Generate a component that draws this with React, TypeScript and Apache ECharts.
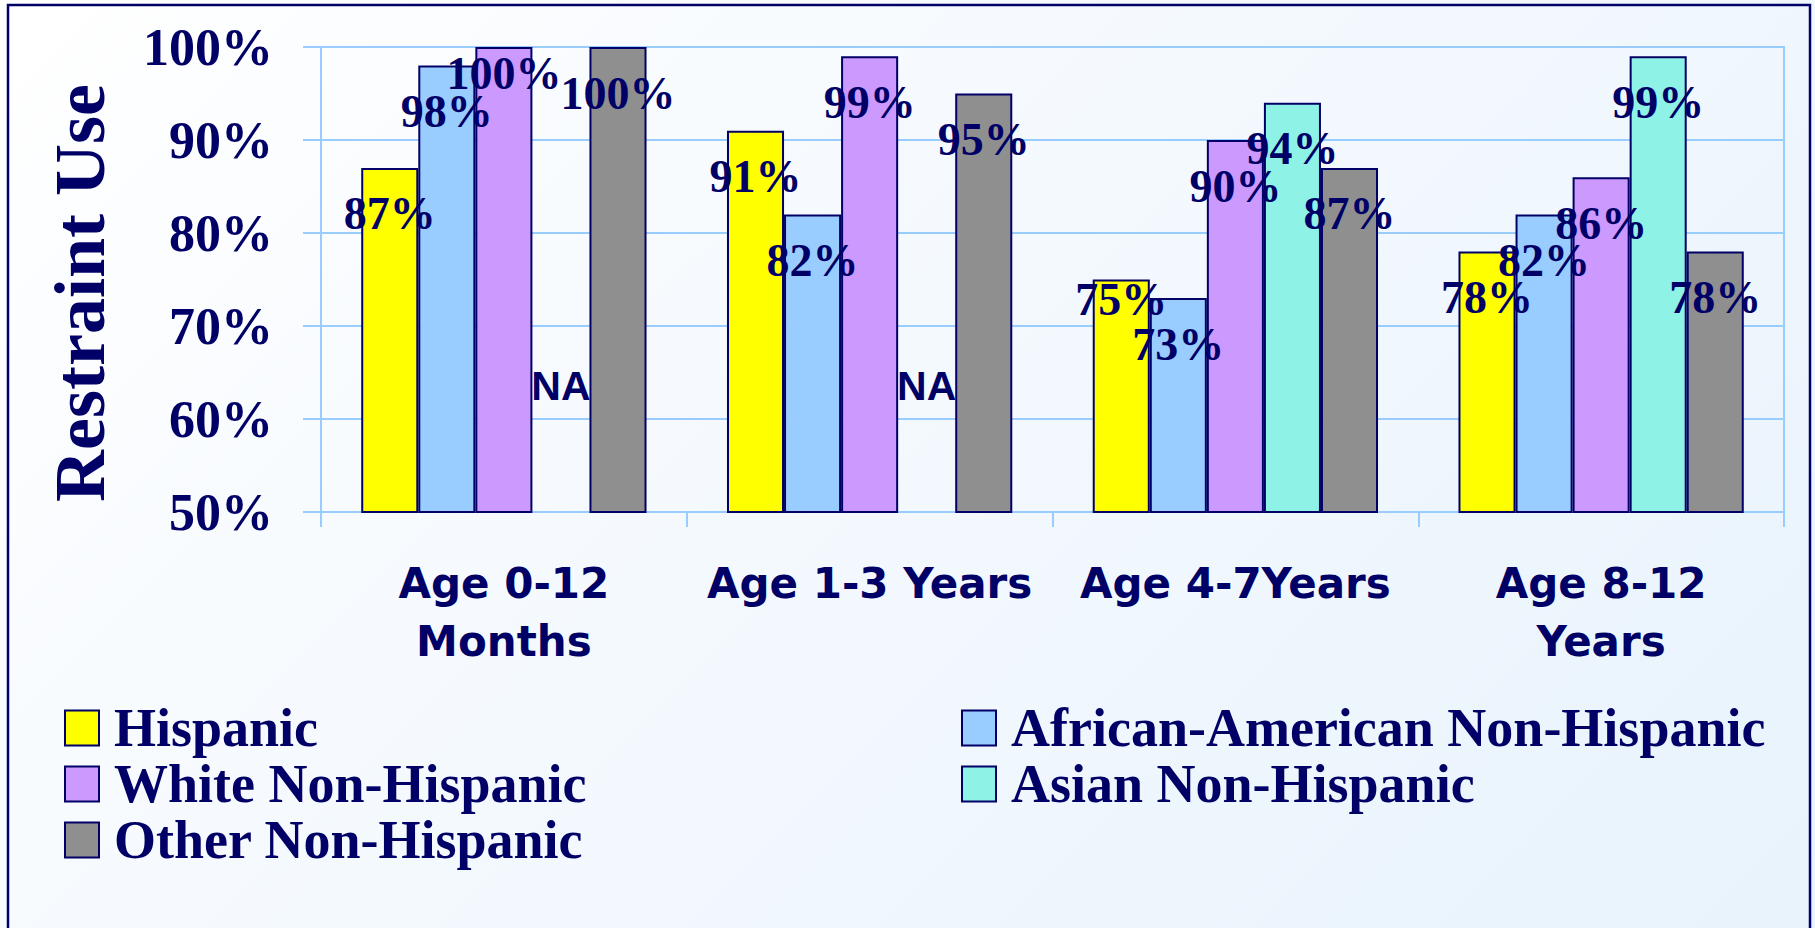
import React, { useEffect, useRef } from "react";
import * as echarts from "echarts";

const categories = ["Age 0-12\nMonths", "Age 1-3 Years", "Age 4-7Years", "Age 8-12\nYears"];
const seriesNames = [
  "Hispanic",
  "African-American Non-Hispanic",
  "White Non-Hispanic",
  "Asian Non-Hispanic",
  "Other Non-Hispanic",
];
const hispanic = [87, 91, 75, 78];
const africanAmerican = [98, 82, 73, 82];
const whiteNH = [100, 99, 90, 86];
const asianNH: (number | null)[] = [null, null, 94, 99];
const otherNH = [100, 95, 87, 78];
const yMin = 50;
const yMax = 100;
const yStep = 10;
const naText = "NA";
const naLevel = 63.5;

const colors = ["#ffff00", "#99ccff", "#cc99ff", "#8ef2e6", "#8f8f8f"];
const NAVY = "#000066";
const SERIF = "'Liberation Serif', 'Times New Roman', serif";
const GRIDC = "#99ccff";

// label distance tweaks (series index, category index) -> distance
const labelDistanceOverrides: Record<string, number> = { "2-0": 3, "0-2": -3 };

export default function App() {
  const ref = useRef<HTMLDivElement>(null);
  useEffect(() => {
    if (!ref.current) return;
    const chart = echarts.init(ref.current, undefined, { renderer: "svg" });
    const allData = [hispanic, africanAmerican, whiteNH, asianNH, otherNH];
    const series = allData.map((arr, si) => ({
      name: seriesNames[si],
      type: "bar",
      barGap: "0%",
      barCategoryGap: "22%",
      itemStyle: { color: colors[si], borderColor: NAVY, borderWidth: 2 },
      label: {
        show: true,
        position: "insideTop",
        distance: 23,
        formatter: "{c}%",
        color: NAVY,
        fontFamily: SERIF,
        fontWeight: "bold",
        fontSize: 46,
        lineHeight: 46,
      },
      data: arr.map((v, ci) => {
        const key = `${si}-${ci}`;
        if (v === null) return null;
        if (key in labelDistanceOverrides) {
          return { value: v, label: { distance: labelDistanceOverrides[key] } };
        }
        return v;
      }),
      markPoint:
        si === 3
          ? {
              symbol: "rect",
              symbolSize: 0,
              silent: true,
              label: {
                show: true,
                position: "inside",
                formatter: naText,
                color: NAVY,
                fontFamily: "'Liberation Sans', Arial, sans-serif",
                fontWeight: "bold",
                fontSize: 41,
              },
              data: arr
                .map((v, ci) => (v === null ? { coord: [ci, naLevel], value: naText } : null))
                .filter((d) => d !== null),
            }
          : undefined,
    }));

    const legendBase = {
      orient: "vertical",
      top: 701,
      padding: 0,
      itemWidth: 34,
      itemHeight: 35,
      itemGap: 2,
      icon: "rect",
      itemStyle: { borderColor: NAVY, borderWidth: 2 },
      textStyle: {
        color: NAVY,
        fontFamily: SERIF,
        fontWeight: "bold",
        fontSize: 54,
        padding: [0, 0, 0, 10],
      },
    };

    chart.setOption({
      animation: false,
      backgroundColor: "transparent",
      grid: {
        left: 321,
        right: 31,
        top: 47,
        bottom: 416,
        show: true,
        borderColor: GRIDC,
        borderWidth: 2,
        backgroundColor: "transparent",
      },
      xAxis: {
        type: "category",
        data: categories,
        axisLine: { lineStyle: { color: GRIDC, width: 2 } },
        axisTick: { show: true, length: 15, lineStyle: { color: GRIDC, width: 2 } },
        axisLabel: {
          interval: 0,
          margin: 42,
          color: NAVY,
          fontFamily: "'DejaVu Sans', Verdana, sans-serif",
          fontWeight: "bold",
          fontSize: 42,
          lineHeight: 58,
        },
      },
      yAxis: {
        type: "value",
        min: yMin,
        max: yMax,
        interval: yStep,
        axisLine: { show: true, lineStyle: { color: GRIDC, width: 2 } },
        axisTick: { show: true, length: 18, lineStyle: { color: GRIDC, width: 2 } },
        splitLine: { show: true, lineStyle: { color: GRIDC, width: 2 } },
        axisLabel: {
          formatter: "{value}%",
          margin: 48,
          color: NAVY,
          fontFamily: SERIF,
          fontWeight: "bold",
          fontSize: 52,
        },
      },
      legend: [
        { ...legendBase, data: [seriesNames[0], seriesNames[2], seriesNames[4]], left: 64 },
        { ...legendBase, data: [seriesNames[1], seriesNames[3]], left: 961 },
      ],
      graphic: [
        {
          type: "rect",
          silent: true,
          shape: { x: 8, y: 5, width: 1802, height: 960 },
          style: { fill: "none", stroke: NAVY, lineWidth: 2.5 },
        },
        {
          type: "text",
          silent: true,
          x: 80,
          y: 293,
          rotation: Math.PI / 2,
          style: {
            text: "Restraint Use",
            fill: NAVY,
            font: `bold 72px ${SERIF}`,
            textAlign: "center",
            textVerticalAlign: "middle",
          },
        },
      ],
      series,
    });
    return () => chart.dispose();
  }, []);

  return (
    <div
      style={{
        position: "fixed",
        left: 0,
        top: 0,
        width: 1815,
        height: 928,
        background: "linear-gradient(135deg, #ffffff 0%, #f4f9fe 45%, #e8f3fc 100%)",
      }}
    >
      <div ref={ref} style={{ width: 1815, height: 928 }} />
    </div>
  );
}
